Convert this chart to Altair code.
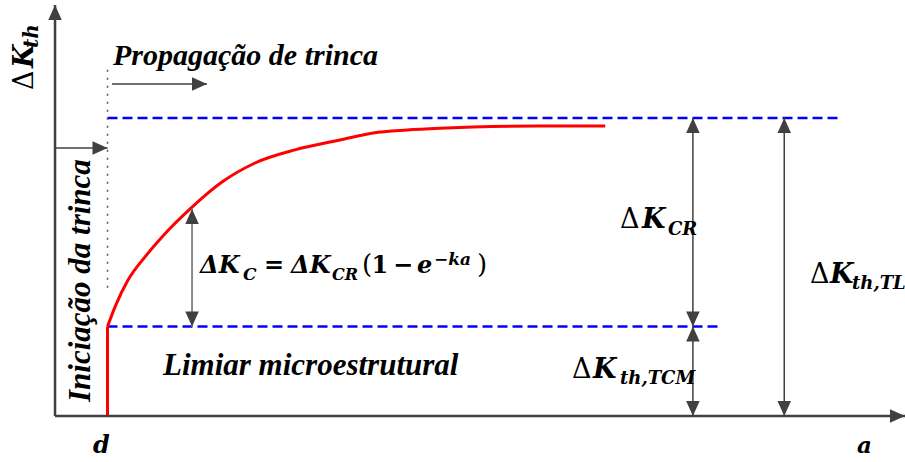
import altair as alt
import pandas as pd

# Schematic of the crack-growth threshold ΔK_th against crack length a.
# Units are arbitrary: d = 1, microstructural threshold = 3, long-crack threshold = 10.
X_DOMAIN = [-1.048, 16.19]
Y_DOMAIN = [-1.544, 13.96]

D = 1.0
K_TCM = 3.0
K_TL = 10.0

# red threshold curve after d (the exponential build-up)
curve_a = [1.0, 1.143, 1.39, 1.714, 2.038, 2.61, 3.18, 3.81, 4.57,
           5.43, 6.06, 6.70, 7.33, 7.96, 9.24, 10.48]
curve_k = [3.0, 3.66, 4.56, 5.34, 6.01, 7.01, 7.85, 8.49, 8.93,
           9.26, 9.50, 9.60, 9.66, 9.70, 9.73, 9.73]

# main axes (start x, start y, end x, end y)
axis_x0 = [0.0, 0.0]
axis_y0 = [0.0, 0.0]
axis_x1 = [16.19, 0.0]
axis_y1 = [0.0, 13.79]

# double-headed dimension arrows and the two region arrows
arrow_names = ["CR", "TCM", "TL", "prop", "init"]
arrow_x0 = [12.15, 12.15, 13.89, 1.086, 0.0]
arrow_y0 = [K_TCM, 0.0, 0.0, 11.14, 8.99]
arrow_x1 = [12.15, 12.15, 13.89, 2.895, D]
arrow_y1 = [K_TL, K_TCM, K_TL, 11.14, 8.99]

# ΔK_C arrow between the threshold line and the curve
kc_x = 2.61
kc_y0 = K_TCM
kc_y1 = 6.95

# arrowhead tips and directions (0 up, 90 right, 180 down)
head_x = [16.19, 0.0, kc_x, kc_x, 12.15, 12.15, 12.15, 12.15, 13.89, 13.89, 2.895, D]
head_y = [0.0, 13.79, kc_y1, kc_y0, K_TL, K_TCM, K_TCM, 0.0, K_TL, 0.0, 11.14, 8.99]
head_dir = [90, 0, 0, 180, 0, 180, 0, 180, 0, 180, 90, 90]

# dashed threshold levels
level_x0 = [D, D]
level_x1 = [15.0, 12.63]
level_y = [K_TL, K_TCM]

# dotted separator between initiation and propagation
sep_y0 = 4.3
sep_y1 = 11.68

# text pieces: label, x, y, font size, rotation, face
#   bi = text bold italic, mbi = math bold italic, mb = math bold, mr = math regular
txt_label = [
    "Propagação de trinca", "Limiar microestrutural", "Iniciação da trinca",
    "Δ", "K", "th",
    "ΔK", "C", "=", "ΔK", "CR", "(", "1", "−", "e", "−ka", ")",
    "Δ", "K", "CR",
    "Δ", "K", "th,TCM",
    "Δ", "K", "th,TL",
    "d", "a",
]
txt_x = [
    1.105, 2.057, 0.667,
    -0.419, -0.419, -0.324,
    2.762, 3.58, 3.981, 4.495, 5.276, 5.848, 6.029, 6.438, 6.895, 7.219, 8.038,
    10.762, 11.181, 11.676,
    9.848, 10.248, 10.762,
    14.381, 14.762, 15.181,
    0.724, 15.276,
]
txt_y = [
    11.78, 1.376, 0.47,
    10.94, 11.68, 12.35,
    4.799, 4.564, 4.799, 4.799, 4.564, 4.799, 4.799, 4.799, 4.799, 5.067, 4.799,
    6.309, 6.309, 6.074,
    1.275, 1.275, 1.074,
    4.463, 4.463, 4.262,
    -1.242, -1.242,
]
txt_size = [
    30, 31, 31,
    27, 27, 20,
    24, 17, 24, 24, 16, 26, 24, 24, 24, 17, 26,
    27, 27, 18,
    27, 27, 18,
    27, 27, 18,
    24, 23,
]
txt_angle = [
    0, 0, 270,
    270, 270, 270,
    0, 0, 0, 0, 0, 0, 0, 0, 0, 0, 0,
    0, 0, 0,
    0, 0, 0,
    0, 0, 0,
    0, 0,
]
txt_face = [
    "bi", "bi", "bi",
    "mr", "mbi", "mbi",
    "mbi", "mbi", "mb", "mbi", "mbi", "mr", "mb", "mb", "mbi", "mbi", "mr",
    "mr", "mbi", "mbi",
    "mr", "mbi", "mbi",
    "mr", "mbi", "mbi",
    "mbi", "mbi",
]

AXIS_COL = "#404040"
TEXT_FONT = "Liberation Serif"
MATH_FONT = "DejaVu Serif"

xs = alt.Scale(domain=X_DOMAIN, nice=False, zero=False)
ys = alt.Scale(domain=Y_DOMAIN, nice=False, zero=False)
X = lambda f: alt.X(f, type="quantitative", scale=xs, axis=None)
Y = lambda f: alt.Y(f, type="quantitative", scale=ys, axis=None)

curve_df = pd.DataFrame({"a": curve_a, "k": curve_k})
axis_df = pd.DataFrame({"x0": axis_x0, "y0": axis_y0, "x1": axis_x1, "y1": axis_y1})
arrow_df = pd.DataFrame({"name": arrow_names, "x0": arrow_x0, "y0": arrow_y0,
                         "x1": arrow_x1, "y1": arrow_y1})
kc_df = pd.DataFrame({"x0": [kc_x], "y0": [kc_y0], "y1": [kc_y1]})
head_df = pd.DataFrame({"x": head_x, "y": head_y, "ang": head_dir})
level_df = pd.DataFrame({"x0": level_x0, "x1": level_x1, "y": level_y})
sep_df = pd.DataFrame({"x": [D], "y0": [sep_y0], "y1": [sep_y1]})
rise_df = pd.DataFrame({"x": [D], "y0": [0.0], "y1": [K_TCM]})
txt_df = pd.DataFrame({"t": txt_label, "x": txt_x, "y": txt_y, "s": txt_size,
                       "ang": txt_angle, "face": txt_face})

axes = alt.Chart(axis_df).mark_rule(color=AXIS_COL, strokeWidth=2.5).encode(
    x=X("x0"), y=Y("y0"), x2="x1", y2="y1")

arrows = alt.Chart(arrow_df).mark_rule(color=AXIS_COL, strokeWidth=1.5).encode(
    x=X("x0"), y=Y("y0"), x2="x1", y2="y1")

kc_arrow = alt.Chart(kc_df).mark_rule(color="#8a8a8a", strokeWidth=2).encode(
    x=X("x0"), y=Y("y0"), y2="y1")

heads = alt.Chart(head_df).mark_point(
    shape="M0,0L-0.45,1L0.45,1Z", filled=True, color=AXIS_COL, opacity=1, size=900
).encode(x=X("x"), y=Y("y"), angle=alt.Angle("ang:Q", scale=None))

levels = alt.Chart(level_df).mark_rule(
    color="#0000ff", strokeWidth=2.5, strokeDash=[10, 5]
).encode(x=X("x0"), x2="x1", y=Y("y"))

sep = alt.Chart(sep_df).mark_rule(
    color="#555555", strokeWidth=1.5, strokeDash=[2, 6]
).encode(x=X("x"), y=Y("y0"), y2="y1")

rise = alt.Chart(rise_df).mark_rule(color="#ff0000", strokeWidth=3).encode(
    x=X("x"), y=Y("y0"), y2="y1")

curve = alt.Chart(curve_df).mark_line(
    color="#ff0000", strokeWidth=3, interpolate="monotone"
).encode(x=X("a"), y=Y("k"))


def text_layer(face, font, style, weight):
    return alt.Chart(txt_df).transform_filter(
        alt.datum.face == face
    ).mark_text(
        align="left", baseline="alphabetic", font=font,
        fontStyle=style, fontWeight=weight, color="#000000"
    ).encode(
        x=X("x"), y=Y("y"), text="t:N",
        size=alt.Size("s:Q", scale=None),
        angle=alt.Angle("ang:Q", scale=None),
    )


texts = [
    text_layer("bi", TEXT_FONT, "italic", "bold"),
    text_layer("mbi", MATH_FONT, "italic", "bold"),
    text_layer("mb", MATH_FONT, "normal", "bold"),
    text_layer("mr", MATH_FONT, "normal", "normal"),
]

chart = alt.layer(
    levels, sep, rise, curve, axes, arrows, kc_arrow, heads, *texts
).properties(
    width=905, height=462,
    autosize=alt.AutoSizeParams(type="none"),
    padding=0,
).configure_view(strokeWidth=0)

chart.save("out.html", embed_options={"renderer": "svg", "actions": False})
